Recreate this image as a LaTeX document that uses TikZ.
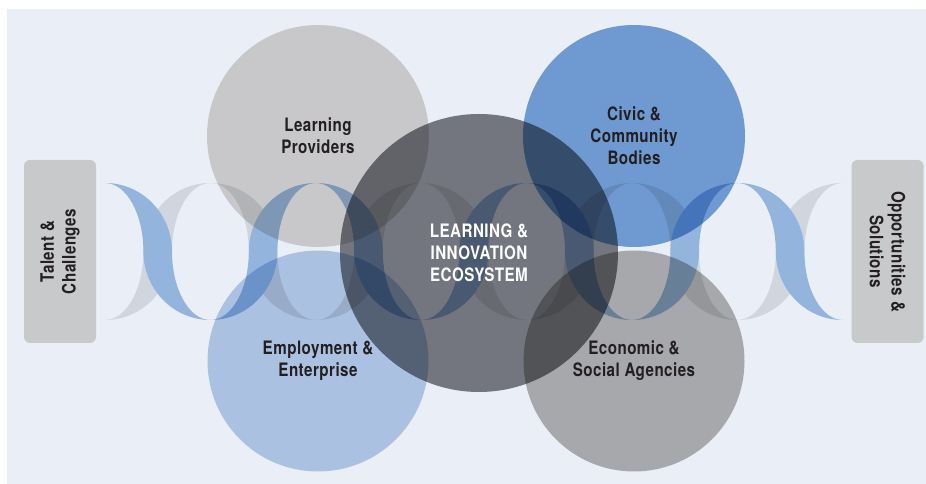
\documentclass[tikz,border=0pt]{standalone}
\usepackage{fontspec}
\usepackage{xcolor}
\usepackage{tikz}
\usetikzlibrary{positioning}
\newfontfamily\condfont{TeX Gyre Heros}[FakeStretch=0.82,LetterSpace=2.5]

\definecolor{bgblue}{HTML}{EAEEF7}
\definecolor{boxgray}{HTML}{C8C9CB}
\definecolor{strandgray}{HTML}{D1D5DD}
\definecolor{strandblue}{HTML}{93B4DC}
\definecolor{lpgray}{HTML}{DAD7D2}
\definecolor{civicblue}{HTML}{79A5D8}
\definecolor{empblue}{HTML}{BACFEA}
\definecolor{ecogray}{HTML}{B6B4B1}
\definecolor{coregray}{HTML}{7E7F83}
\definecolor{inkdark}{HTML}{231F20}

% one half turn of a strand, #1 = x of the start, #2 = colour
\newcommand{\strandDown}[2]{%
  \fill[#2] (#1,301) arc[start angle=90,end angle=0,x radius=67,y radius=68.5]
    arc[start angle=180,end angle=270,x radius=38.4,y radius=68.5]
    arc[start angle=270,end angle=180,x radius=67,y radius=68.5]
    arc[start angle=0,end angle=90,x radius=38.4,y radius=68.5] -- cycle;}
\newcommand{\strandUp}[2]{%
  \fill[#2] (#1,164) arc[start angle=270,end angle=360,x radius=67,y radius=68.5]
    arc[start angle=180,end angle=90,x radius=38.4,y radius=68.5]
    arc[start angle=90,end angle=180,x radius=67,y radius=68.5]
    arc[start angle=0,end angle=-90,x radius=38.4,y radius=68.5] -- cycle;}

\begin{document}
\begin{tikzpicture}[x=1pt,y=1pt,
  bubble/.style={circle, inner sep=0pt, minimum size=#1, blend mode=multiply},
  bubbletext/.style={font=\condfont\bfseries\fontsize{18.5}{21.9}\selectfont, text=inkdark, align=center},
  sidebox/.style={rectangle, rounded corners=6pt, fill=boxgray, minimum width=183pt, minimum height=72pt,
    font=\condfont\bfseries\fontsize{18.5}{21.9}\selectfont, text=inkdark, align=center}]
  \useasboundingbox (0,0) rectangle (926,484);
  \fill[bgblue] (7,0) rectangle (926,475);

  % Side boxes
  \node[sidebox, rotate=90] (talent) at (60,232.5) {Talent \&\\Challenges};
  \node[sidebox, rotate=-90] (solutions) at (887.5,232.5) {Opportunities \&\\Solutions};

  % Helix
  \foreach \k in {0,2,4,6} {
    \pgfmathsetmacro{\cx}{105+105.4*\k}
    \strandUp{\cx}{strandgray}
  }
  \foreach \k in {1,3,5} {
    \pgfmathsetmacro{\cx}{105+105.4*\k}
    \strandDown{\cx}{strandgray}
  }
  \foreach \k in {0,2,4,6} {
    \pgfmathsetmacro{\cx}{105+105.4*\k}
    \strandDown{\cx}{strandblue}
  }
  \foreach \k in {1,3,5} {
    \pgfmathsetmacro{\cx}{105+105.4*\k}
    \strandUp{\cx}{strandblue}
  }

  % Circles
  \node[bubble=222pt, fill=lpgray] (providers) at (318,348) {};
  \node[bubble=222pt, fill=civicblue] (civic) at (634,348) {};
  \node[bubble=221pt, fill=empblue] (employment) at (318,123) {};
  \node[bubble=221pt, fill=ecogray] (economic) at (634,123) {};
  \node[bubble=278pt, fill=coregray] (core) at (479,231) {};

  % Labels
  \node[bubbletext] at (providers) {Learning\\Providers};
  \node[bubbletext] at (civic) {Civic \&\\Community\\Bodies};
  \node[bubbletext] at (employment) {Employment \&\\Enterprise};
  \node[bubbletext] at (economic) {Economic \&\\Social Agencies};
  \node[bubbletext, text=white] at (core) {LEARNING \&\\INNOVATION\\ECOSYSTEM};
\end{tikzpicture}
\end{document}
